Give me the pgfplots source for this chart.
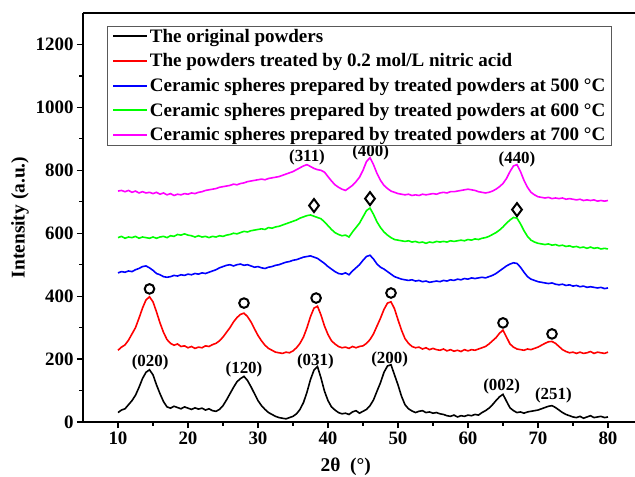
\documentclass[border=0pt]{standalone}
\usepackage{pgfplots}
\pgfplotsset{compat=1.18}
\usepackage{fontspec}
\setmainfont{Liberation Serif}
\begin{document}
\begin{tikzpicture}
\begin{axis}[name=ax,
  scale only axis, width=552bp, height=409bp,
  xmin=5, xmax=83.86, ymin=0, ymax=1300,
  axis x line=box, axis y line=left, axis line style={-, line width=1.5bp},
  xtick={10,20,...,80}, ytick={0,200,...,1200},
  minor x tick num=1, minor y tick num=1,
  xtick pos=bottom, ytick pos=left,
  tick align=outside, major tick length=6bp, minor tick length=3.5bp,
  every tick/.style={line width=1.2bp, black},
  ticklabel style={font=\bfseries\fontsize{19}{19}\selectfont},
  /pgf/number format/assume math mode=true,
  /pgf/number format/1000 sep={},
  scaled ticks=false,
  xlabel={2θ\ \ (°)}, ylabel={Intensity (a.u.)},
  every axis x label/.style={at={(ticklabel cs:0.476)}, anchor=near ticklabel, yshift=-7bp, font=\bfseries\fontsize{19.5}{19.5}\selectfont},
  every axis y label/.style={at={(ticklabel cs:0.5)}, anchor=near ticklabel, rotate=90, font=\bfseries\fontsize{19.5}{19.5}\selectfont},
  legend style={at={(rel axis cs:0.0435,0.968)}, anchor=north west,
    draw=gray!70!black, line width=0.8bp, inner xsep=5bp, inner ysep=2.5bp,
    font=\bfseries\fontsize{19.1}{22}\selectfont, row sep=10bp,
    nodes={inner xsep=1.5bp, inner ysep=0bp}},
  legend cell align=left,
  legend image code/.code={\draw[#1, line width=2bp] (0bp,0bp) -- (34bp,0bp);},
  every axis plot/.append style={line width=1.6bp},
]
% original powders
\addplot[black] coordinates {
(10,30) (10.5,38) (11,42) (11.5,55) (12,68) (12.5,85) (13,110) (13.5,138) (14,158) (14.5,166)
(15,150) (15.5,118) (16,90) (16.5,65) (17,48) (17.5,44) (18,50) (18.5,46) (19,42) (19.5,48)
(20,44) (20.5,40) (21,45) (21.5,41) (22,44) (22.5,38) (23,42) (23.5,36) (24,34) (24.5,40)
(25,52) (25.5,70) (26,90) (26.5,110) (27,128) (27.5,138) (28,145) (28.5,132) (29,112) (29.5,90)
(30,68) (30.5,52) (31,40) (31.5,30) (32,24) (32.5,18) (33,14) (33.5,12) (34,10) (34.5,14)
(35,18) (35.5,26) (36,40) (36.5,62) (37,95) (37.5,135) (38,165) (38.5,176) (39,140) (39.5,98)
(40,68) (40.5,48) (41,38) (41.5,30) (42,26) (42.5,28) (43,24) (43.5,32) (44,36) (44.5,28)
(45,34) (45.5,40) (46,52) (46.5,70) (47,98) (47.5,125) (48,158) (48.5,178) (49,182) (49.5,150)
(50,118) (50.5,82) (51,55) (51.5,42) (52,35) (52.5,30) (53,34) (53.5,36) (54,30) (54.5,32)
(55,28) (55.5,30) (56,26) (56.5,24) (57,20) (57.5,18) (58,22) (58.5,16) (59,20) (59.5,18)
(60,22) (60.5,20) (61,24) (61.5,22) (62,30) (62.5,36) (63,44) (63.5,55) (64,68) (64.5,80)
(65,88) (65.5,66) (66,45) (66.5,36) (67,30) (67.5,32) (68,28) (68.5,32) (69,34) (69.5,36)
(70,38) (70.5,42) (71,46) (71.5,50) (72,52) (72.5,46) (73,38) (73.5,30) (74,24) (74.5,20)
(75,16) (75.5,14) (76,18) (76.5,12) (77,16) (77.5,20) (78,14) (78.5,16) (79,18) (79.5,14) (80,16)
};
\addlegendentry{The original powders}
% nitric acid
\addplot[red] coordinates {
(10,228) (10.5,238) (11,245) (11.5,260) (12,280) (12.5,300) (13,330) (13.5,362) (14,388) (14.5,398)
(15,382) (15.5,350) (16,315) (16.5,285) (17,262) (17.5,250) (18,244) (18.5,248) (19,240) (19.5,242)
(20,236) (20.5,240) (21,234) (21.5,238) (22,236) (22.5,242) (23,240) (23.5,246) (24,250) (24.5,258)
(25,270) (25.5,285) (26,300) (26.5,318) (27,332) (27.5,342) (28,346) (28.5,335) (29,318) (29.5,296)
(30,275) (30.5,258) (31,244) (31.5,234) (32,228) (32.5,222) (33,220) (33.5,218) (34,222) (34.5,220)
(35,226) (35.5,236) (36,250) (36.5,270) (37,300) (37.5,335) (38,362) (38.5,368) (39,340) (39.5,305)
(40,278) (40.5,258) (41,248) (41.5,240) (42,236) (42.5,238) (43,234) (43.5,240) (44,236) (44.5,240)
(45,242) (45.5,250) (46,262) (46.5,280) (47,305) (47.5,330) (48,358) (48.5,378) (49,382) (49.5,360)
(50,325) (50.5,292) (51,265) (51.5,250) (52,240) (52.5,236) (53,238) (53.5,232) (54,236) (54.5,230)
(55,234) (55.5,230) (56,228) (56.5,232) (57,226) (57.5,230) (58,225) (58.5,228) (59,224) (59.5,230)
(60,226) (60.5,230) (61,228) (61.5,232) (62,236) (62.5,240) (63,248) (63.5,258) (64,268) (64.5,282)
(65,292) (65.5,270) (66,248) (66.5,238) (67,232) (67.5,230) (68,228) (68.5,232) (69,230) (69.5,234)
(70,238) (70.5,244) (71,250) (71.5,255) (72,256) (72.5,250) (73,240) (73.5,230) (74,224) (74.5,220)
(75,222) (75.5,218) (76,222) (76.5,218) (77,220) (77.5,224) (78,218) (78.5,222) (79,220) (79.5,218) (80,222)
};
\addlegendentry{The powders treated by 0.2 mol/L nitric acid}
% 500 C
\addplot[blue] coordinates {
(10,474) (10.5,478) (11,476) (11.5,480) (12,478) (12.5,484) (13,488) (13.5,494) (14,496) (14.5,490)
(15,482) (15.5,472) (16,468) (16.5,462) (17,460) (17.5,462) (18,466) (18.5,464) (19,468) (19.5,466)
(20,470) (20.5,468) (21,472) (21.5,470) (22,474) (22.5,472) (23,476) (23.5,480) (24,484) (24.5,490)
(25,494) (25.5,498) (26,500) (26.5,496) (27,500) (27.5,502) (28,498) (28.5,500) (29,496) (29.5,492)
(30,494) (30.5,490) (31,488) (31.5,492) (32,494) (32.5,498) (33,500) (33.5,504) (34,508) (34.5,510)
(35,514) (35.5,516) (36,520) (36.5,524) (37,526) (37.5,528) (38,524) (38.5,520) (39,512) (39.5,504)
(40,494) (40.5,486) (41,478) (41.5,472) (42,470) (42.5,474) (43,468) (43.5,480) (44,490) (44.5,500)
(45,514) (45.5,526) (46,530) (46.5,518) (47,502) (47.5,492) (48,486) (48.5,478) (49,470) (49.5,462)
(50,458) (50.5,454) (51,452) (51.5,450) (52,452) (52.5,448) (53,450) (53.5,446) (54,448) (54.5,444)
(55,446) (55.5,448) (56,446) (56.5,450) (57,448) (57.5,452) (58,450) (58.5,454) (59,452) (59.5,456)
(60,454) (60.5,458) (61,456) (61.5,458) (62,460) (62.5,458) (63,462) (63.5,466) (64,472) (64.5,480)
(65,488) (65.5,496) (66,502) (66.5,506) (67,504) (67.5,492) (68,476) (68.5,462) (69,454) (69.5,450)
(70,446) (70.5,444) (71,442) (71.5,440) (72,442) (72.5,438) (73,436) (73.5,438) (74,434) (74.5,436)
(75,432) (75.5,434) (76,430) (76.5,432) (77,428) (77.5,430) (78,428) (78.5,426) (79,428) (79.5,424) (80,426)
};
\addlegendentry{Ceramic spheres prepared by treated powders at 500 °C}
% 600 C
\addplot[color={rgb,255:red,0;green,255;blue,0}] coordinates {
(10,586) (10.5,590) (11,584) (11.5,588) (12,586) (12.5,590) (13,584) (13.5,588) (14,586) (14.5,584)
(15,588) (15.5,584) (16,588) (16.5,590) (17,586) (17.5,592) (18,590) (18.5,596) (19,594) (19.5,598)
(20,594) (20.5,592) (21,588) (21.5,592) (22,588) (22.5,590) (23,586) (23.5,590) (24,588) (24.5,592)
(25,590) (25.5,594) (26,596) (26.5,600) (27,598) (27.5,602) (28,606) (28.5,604) (29,608) (29.5,610)
(30,612) (30.5,614) (31,612) (31.5,618) (32,616) (32.5,620) (33,622) (33.5,626) (34,630) (34.5,634)
(35,638) (35.5,642) (36,648) (36.5,652) (37,656) (37.5,658) (38,654) (38.5,650) (39,646) (39.5,636)
(40,624) (40.5,612) (41,602) (41.5,596) (42,592) (42.5,594) (43,588) (43.5,604) (44,618) (44.5,632)
(45,652) (45.5,672) (46,680) (46.5,660) (47,636) (47.5,618) (48,604) (48.5,594) (49,586) (49.5,580)
(50,578) (50.5,576) (51,574) (51.5,576) (52,572) (52.5,574) (53,570) (53.5,572) (54,568) (54.5,572)
(55,570) (55.5,574) (56,572) (56.5,574) (57,572) (57.5,576) (58,574) (58.5,576) (59,578) (59.5,576)
(60,580) (60.5,578) (61,582) (61.5,580) (62,584) (62.5,586) (63,590) (63.5,596) (64,602) (64.5,610)
(65,620) (65.5,632) (66,642) (66.5,650) (67,648) (67.5,630) (68,608) (68.5,590) (69,578) (69.5,572)
(70,568) (70.5,566) (71,564) (71.5,566) (72,562) (72.5,564) (73,560) (73.5,562) (74,558) (74.5,560)
(75,556) (75.5,558) (76,554) (76.5,556) (77,552) (77.5,556) (78,552) (78.5,554) (79,550) (79.5,552) (80,550)
};
\addlegendentry{Ceramic spheres prepared by treated powders at 600 °C}
% 700 C
\addplot[color={rgb,255:red,255;green,0;blue,255}] coordinates {
(10,734) (10.5,736) (11,732) (11.5,736) (12,730) (12.5,734) (13,728) (13.5,732) (14,728) (14.5,730)
(15,726) (15.5,730) (16,724) (16.5,728) (17,722) (17.5,726) (18,720) (18.5,724) (19,722) (19.5,726)
(20,724) (20.5,728) (21,726) (21.5,730) (22,732) (22.5,736) (23,738) (23.5,740) (24,742) (24.5,746)
(25,748) (25.5,750) (26,752) (26.5,756) (27,754) (27.5,758) (28,760) (28.5,764) (29,766) (29.5,768)
(30,770) (30.5,772) (31,770) (31.5,774) (32,776) (32.5,778) (33,780) (33.5,784) (34,788) (34.5,792)
(35,796) (35.5,802) (36,808) (36.5,814) (37,818) (37.5,812) (38,806) (38.5,802) (39,800) (39.5,794)
(40,780) (40.5,766) (41,754) (41.5,746) (42,740) (42.5,736) (43,744) (43.5,752) (44,764) (44.5,778)
(45,800) (45.5,828) (46,840) (46.5,818) (47,790) (47.5,768) (48,752) (48.5,742) (49,734) (49.5,730)
(50,726) (50.5,724) (51,722) (51.5,724) (52,720) (52.5,722) (53,720) (53.5,724) (54,722) (54.5,724)
(55,726) (55.5,724) (56,728) (56.5,730) (57,728) (57.5,732) (58,732) (58.5,734) (59,736) (59.5,738)
(60,740) (60.5,738) (61,736) (61.5,732) (62,730) (62.5,728) (63,730) (63.5,734) (64,740) (64.5,748)
(65,758) (65.5,774) (66,796) (66.5,814) (67,818) (67.5,796) (68,768) (68.5,746) (69,730) (69.5,722)
(70,716) (70.5,714) (71,712) (71.5,714) (72,710) (72.5,712) (73,710) (73.5,712) (74,708) (74.5,710)
(75,708) (75.5,706) (76,708) (76.5,704) (77,706) (77.5,704) (78,706) (78.5,702) (79,704) (79.5,702) (80,704)
};
\addlegendentry{Ceramic spheres prepared by treated powders at 700 °C}
% markers
\addplot[only marks, mark=o, mark size=4.8bp, black, line width=2bp, forget plot] coordinates {
(14.5,423) (28,378) (38.3,394) (49,410) (65,315) (72,280)};
\addplot[only marks, mark=diamond, mark size=6.5bp, black, line width=2bp, forget plot] coordinates {
(38,688) (46,710) (67,675)};
% peak labels
\begin{scope}[every node/.style={font=\bfseries\fontsize{17}{17}\selectfont}]
\node at (axis cs:14.6,188) {(020)};
\node at (axis cs:28,166) {(120)};
\node at (axis cs:38.2,191) {(031)};
\node at (axis cs:48.8,198) {(200)};
\node at (axis cs:64.8,112) {(002)};
\node at (axis cs:72.2,84) {(251)};
\node at (axis cs:37,840) {(311)};
\node at (axis cs:46.1,856) {(400)};
\node at (axis cs:67,834) {(440)};
\end{scope}
\end{axis}
\pgfresetboundingbox
\path[use as bounding box] ([shift={(-83bp,-55bp)}]ax.south west) rectangle ([shift={(552bp,13bp)}]ax.north west);
\end{tikzpicture}
\end{document}
